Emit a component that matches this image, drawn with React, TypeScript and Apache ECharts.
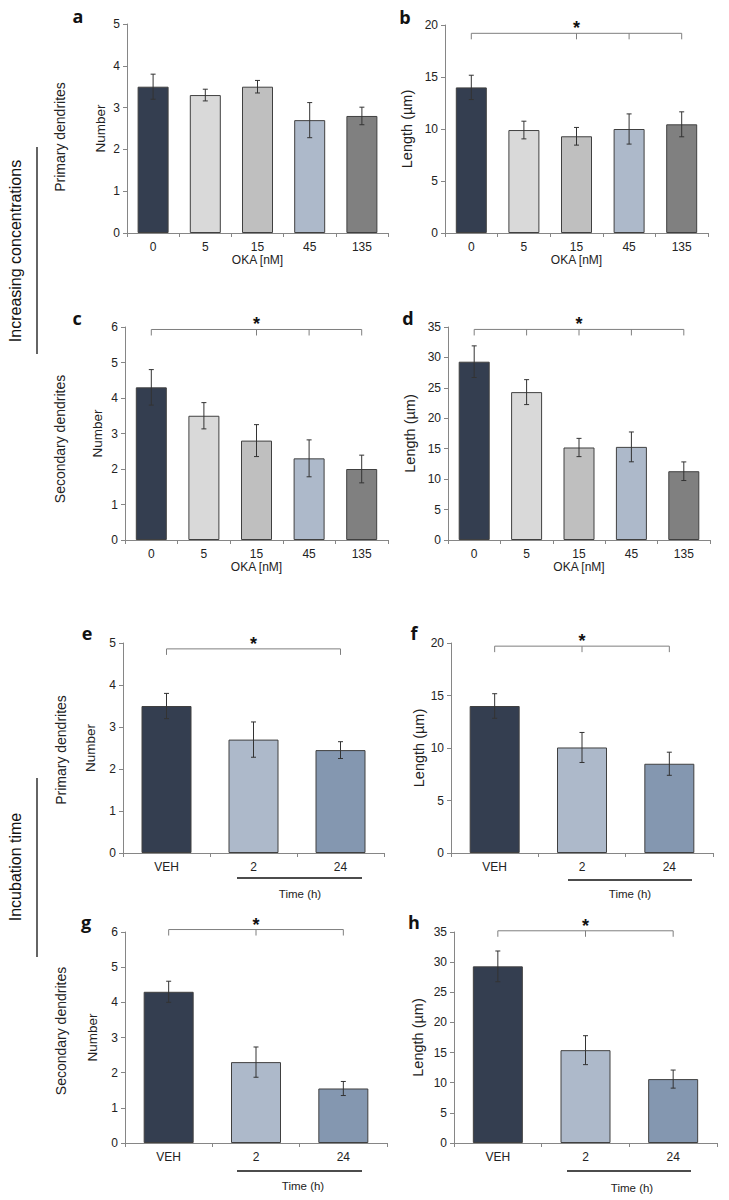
import React, { useEffect, useRef } from "react";
import * as echarts from "echarts";

// ---------- data ----------
const CAT_OKA = ["0", "5", "15", "45", "135"];
const CAT_TIME = ["VEH", "2", "24"];

const A_MEAN = [3.5, 3.3, 3.5, 2.7, 2.8];
const A_ERR = [0.3, 0.14, 0.15, 0.42, 0.21];
const B_MEAN = [14.0, 9.9, 9.3, 10.0, 10.45];
const B_ERR = [1.17, 0.85, 0.85, 1.45, 1.2];
const C_MEAN = [4.3, 3.5, 2.8, 2.3, 2.0];
const C_ERR = [0.5, 0.37, 0.45, 0.52, 0.39];
const D_MEAN = [29.3, 24.3, 15.2, 15.3, 11.3];
const D_ERR = [2.6, 2.05, 1.5, 2.45, 1.53];
const E_MEAN = [3.5, 2.7, 2.45];
const E_ERR = [0.3, 0.42, 0.2];
const F_MEAN = [14.0, 10.05, 8.5];
const F_ERR = [1.17, 1.43, 1.1];
const G_MEAN = [4.3, 2.3, 1.55];
const G_ERR = [0.3, 0.43, 0.2];
const H_MEAN = [29.3, 15.4, 10.6];
const H_ERR = [2.55, 2.4, 1.5];

// significance brackets: [from, to, level], ticks, star category
const BR_B = { from: 0, to: 4, level: 19.2, ticks: [0, 2, 3, 4], star: 2 };
const BR_C = { from: 0, to: 4, level: 5.93, ticks: [0, 2, 3, 4], star: 2 };
const BR_D = { from: 0, to: 4, level: 34.6, ticks: [0, 1, 2, 3, 4], star: 2 };
const BR_E = { from: 0, to: 2, level: 4.86, ticks: [0, 2], star: 1 };
const BR_F = { from: 0, to: 2, level: 19.7, ticks: [0, 1, 2], star: 1 };
const BR_G = { from: 0, to: 2, level: 6.07, ticks: [0, 1, 2], star: 1 };
const BR_H = { from: 0, to: 2, level: 35.2, ticks: [0, 1, 2], star: 1 };

// ---------- styles ----------
const COL_OKA = ["#343e50", "#d9d9d9", "#bfbfbf", "#adb9ca", "#808080"];
const COL_TIME = ["#343e50", "#adb9ca", "#8497b0"];
const FONT = "'Liberation Sans', Arial, sans-serif";
const AXIS_COL = "#868686";

const PANELS = [
  { letter: "a", lx: 78, ly: 16, cats: CAT_OKA, mean: A_MEAN, err: A_ERR, colors: COL_OKA, max: 5, interval: 1, yName: "Number", nameGap: 20, nameSize: 13.5, grid: { left: 127, top: 24, width: 261, height: 209 }, barWidth: 31, br: null, oka: true },
  { letter: "b", lx: 405, ly: 17, cats: CAT_OKA, mean: B_MEAN, err: B_ERR, colors: COL_OKA, max: 20, interval: 5, yName: "Length (\u00b5m)", nameGap: 31, nameSize: 14.5, grid: { left: 445, top: 25, width: 263, height: 208 }, barWidth: 31, br: BR_B, oka: true },
  { letter: "c", lx: 77, ly: 318, cats: CAT_OKA, mean: C_MEAN, err: C_ERR, colors: COL_OKA, max: 6, interval: 1, yName: "Number", nameGap: 21, nameSize: 13.5, grid: { left: 125, top: 327, width: 263, height: 213 }, barWidth: 31, br: BR_C, oka: true },
  { letter: "d", lx: 408, ly: 318, cats: CAT_OKA, mean: D_MEAN, err: D_ERR, colors: COL_OKA, max: 35, interval: 5, yName: "Length (\u00b5m)", nameGap: 31, nameSize: 14.5, grid: { left: 448, top: 327, width: 262, height: 213 }, barWidth: 31, br: BR_D, oka: true },
  { letter: "e", lx: 87, ly: 633, cats: CAT_TIME, mean: E_MEAN, err: E_ERR, colors: COL_TIME, max: 5, interval: 1, yName: "Number", nameGap: 26, nameSize: 13.5, grid: { left: 123, top: 643, width: 261, height: 210 }, barWidth: 50, br: BR_E, oka: false },
  { letter: "f", lx: 414, ly: 633, cats: CAT_TIME, mean: F_MEAN, err: F_ERR, colors: COL_TIME, max: 20, interval: 5, yName: "Length (\u00b5m)", nameGap: 25, nameSize: 14.5, grid: { left: 451, top: 643, width: 262, height: 210 }, barWidth: 50, br: BR_F, oka: false },
  { letter: "g", lx: 86, ly: 922, cats: CAT_TIME, mean: G_MEAN, err: G_ERR, colors: COL_TIME, max: 6, interval: 1, yName: "Number", nameGap: 26, nameSize: 13.5, grid: { left: 125, top: 932, width: 262, height: 211 }, barWidth: 50, br: BR_G, oka: false },
  { letter: "h", lx: 414, ly: 922, cats: CAT_TIME, mean: H_MEAN, err: H_ERR, colors: COL_TIME, max: 35, interval: 5, yName: "Length (\u00b5m)", nameGap: 29, nameSize: 14.5, grid: { left: 454, top: 932, width: 263, height: 211 }, barWidth: 50, br: BR_H, oka: false },
];

function buildOption() {
  const grid: any[] = [];
  const xAxis: any[] = [];
  const yAxis: any[] = [];
  const series: any[] = [];
  const graphic: any[] = [];

  PANELS.forEach((p, k) => {
    grid.push({ ...p.grid });
    xAxis.push({
      type: "category",
      gridIndex: k,
      data: p.cats,
      axisLine: { lineStyle: { color: AXIS_COL, width: 1 } },
      axisTick: { show: true, length: 4, lineStyle: { color: AXIS_COL } },
      axisLabel: { fontSize: 12, color: "#222", margin: 8, fontFamily: FONT },
      name: p.oka ? "OKA [nM]" : "",
      nameLocation: "middle",
      nameGap: 21,
      nameTextStyle: { fontSize: 12, color: "#222", fontFamily: FONT },
    });
    yAxis.push({
      type: "value",
      gridIndex: k,
      min: 0,
      max: p.max,
      interval: p.interval,
      splitLine: { show: false },
      axisLine: { show: true, lineStyle: { color: AXIS_COL, width: 1 } },
      axisTick: { show: true, length: 4, lineStyle: { color: AXIS_COL } },
      axisLabel: { fontSize: 12, color: "#222", margin: 7, fontFamily: FONT },
      name: p.yName,
      nameLocation: "middle",
      nameRotate: 90,
      nameGap: p.nameGap,
      nameTextStyle: { fontSize: p.nameSize, color: "#222", fontFamily: FONT },
    });
    series.push({
      type: "bar",
      xAxisIndex: k,
      yAxisIndex: k,
      barWidth: p.barWidth,
      itemStyle: { borderColor: "#404040", borderWidth: 1 },
      data: p.mean.map((v, i) => ({ value: v, itemStyle: { color: p.colors[i], borderColor: "#404040", borderWidth: 1 } })),
    });
    series.push({
      type: "custom",
      xAxisIndex: k,
      yAxisIndex: k,
      clip: false,
      z: 10,
      data: p.mean.map((v, i) => [i, v - p.err[i], v + p.err[i]]),
      renderItem: (params: any, api: any) => {
        const x = api.value(0);
        const hi = api.coord([x, api.value(2)]);
        const lo = api.coord([x, api.value(1)]);
        const st = { stroke: "#333", lineWidth: 1 };
        const cw = 2.5;
        return {
          type: "group",
          children: [
            { type: "line", shape: { x1: hi[0], y1: hi[1], x2: lo[0], y2: lo[1] }, style: st },
            { type: "line", shape: { x1: hi[0] - cw, y1: hi[1], x2: hi[0] + cw, y2: hi[1] }, style: st },
            { type: "line", shape: { x1: lo[0] - cw, y1: lo[1], x2: lo[0] + cw, y2: lo[1] }, style: st },
          ],
        };
      },
    });
    if (p.br) {
      const br = p.br;
      series.push({
        type: "custom",
        xAxisIndex: k,
        yAxisIndex: k,
        clip: false,
        z: 10,
        data: [[br.from, br.to, br.level]],
        renderItem: (params: any, api: any) => {
          const lvl = api.value(2);
          const a = api.coord([api.value(0), lvl]);
          const b = api.coord([api.value(1), lvl]);
          const st = { stroke: "#7f7f7f", lineWidth: 1 };
          const children: any[] = [
            { type: "line", shape: { x1: a[0], y1: a[1], x2: b[0], y2: b[1] }, style: st },
          ];
          br.ticks.forEach((t: number) => {
            const c = api.coord([t, lvl]);
            children.push({ type: "line", shape: { x1: c[0], y1: c[1], x2: c[0], y2: c[1] + 6 }, style: st });
          });
          const s = api.coord([br.star, lvl]);
          children.push({
            type: "text",
            x: s[0],
            y: s[1] - 5,
            style: { text: "*", fill: "#111", font: "bold 18px " + FONT, align: "center", verticalAlign: "middle" },
          });
          return { type: "group", children };
        },
      });
    }
    graphic.push({
      type: "text",
      x: p.lx,
      y: p.ly,
      style: { text: p.letter, fill: "#111", font: "bold 18px 'Open Sans', sans-serif", align: "center", verticalAlign: "middle" },
    });
  });

  // row labels
  const rowLabels = [
    { text: "Primary dendrites", x: 60, y: 137 },
    { text: "Secondary dendrites", x: 60, y: 439 },
    { text: "Primary dendrites", x: 61, y: 750 },
    { text: "Secondary dendrites", x: 61, y: 1031 },
  ];
  rowLabels.forEach((r) =>
    graphic.push({
      type: "text",
      x: r.x,
      y: r.y,
      rotation: Math.PI / 2,
      style: { text: r.text, fill: "#222", font: "14px " + FONT, align: "center", verticalAlign: "middle" },
    })
  );

  // group labels
  const groups = [
    { text: "Increasing concentrations", y: 251, y1: 147, y2: 354 },
    { text: "Incubation time", y: 867, y1: 778, y2: 957 },
  ];
  groups.forEach((g) => {
    graphic.push({
      type: "text",
      x: 15,
      y: g.y,
      rotation: Math.PI / 2,
      style: { text: g.text, fill: "#111", font: "16px " + FONT, align: "center", verticalAlign: "middle" },
    });
    graphic.push({ type: "line", shape: { x1: 37, y1: g.y1, x2: 37, y2: g.y2 }, style: { stroke: "#111", lineWidth: 1.3 } });
  });

  // Time (h) underlines
  const timeLabels = [
    { x1: 237, x2: 362, ly: 878, tx: 300, ty: 894 },
    { x1: 568, x2: 692, ly: 880, tx: 630, ty: 894 },
    { x1: 237, x2: 362, ly: 1171, tx: 303, ty: 1186 },
    { x1: 567, x2: 691, ly: 1171, tx: 632, ty: 1188 },
  ];
  timeLabels.forEach((t) => {
    graphic.push({ type: "line", shape: { x1: t.x1, y1: t.ly, x2: t.x2, y2: t.ly }, style: { stroke: "#111", lineWidth: 1.6 } });
    graphic.push({
      type: "text",
      x: t.tx,
      y: t.ty,
      style: { text: "Time (h)", fill: "#222", font: "11.5px " + FONT, align: "center", verticalAlign: "middle" },
    });
  });

  return {
    animation: false,
    backgroundColor: "#ffffff",
    textStyle: { fontFamily: FONT },
    grid,
    xAxis,
    yAxis,
    series,
    graphic,
  };
}

export default function App() {
  const ref = useRef<HTMLDivElement>(null);
  useEffect(() => {
    if (!ref.current) return;
    const chart = echarts.init(ref.current, undefined, { renderer: "svg" });
    chart.setOption(buildOption() as any);
    return () => chart.dispose();
  }, []);
  return <div ref={ref} style={{ position: "absolute", left: 0, top: 0, width: 729, height: 1200 }} />;
}
